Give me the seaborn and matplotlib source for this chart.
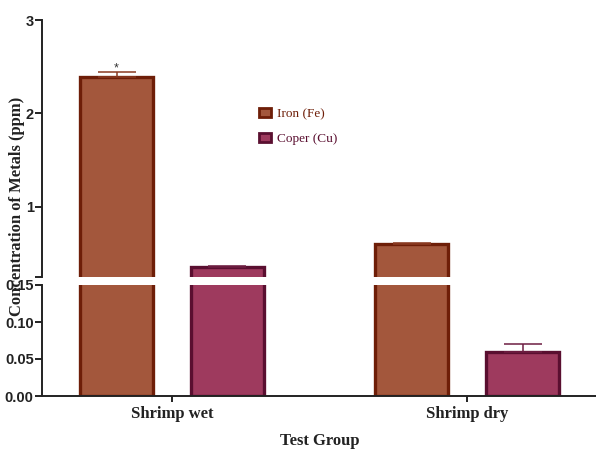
import numpy as np
import pandas as pd
import matplotlib
matplotlib.use("Agg")
import matplotlib.pyplot as plt
import seaborn as sns

# Metal concentrations (ppm) in shrimp samples
groups = ["Shrimp wet", "Shrimp dry"]
metals = ["Iron (Fe)", "Coper (Cu)"]
iron_mean = [2.385, 0.600]
iron_err = [0.055, 0.010]
copper_mean = [0.355, 0.0595]
copper_err = [0.015, 0.011]

fill_colors = {"Iron (Fe)": "#A3573C", "Coper (Cu)": "#9E3A5E"}
edge_colors = {"Iron (Fe)": "#6E1E08", "Coper (Cu)": "#5A0F30"}
err_colors = {"Iron (Fe)": "#8A3A22", "Coper (Cu)": "#6E1E42"}

df = pd.DataFrame({
    "group": groups * 2,
    "metal": [metals[0]] * 2 + [metals[1]] * 2,
    "value": iron_mean + copper_mean,
    "err": iron_err + copper_err,
})

sns.set_style("ticks")
plt.rcParams["font.family"] = ["Liberation Sans", "DejaVu Sans"]

fig = plt.figure(figsize=(5.96, 4.5), dpi=100)
left, right = 42 / 596, 1.0
ax_top = fig.add_axes([left, 1 - 277 / 450, right - left, (277 - 20) / 450])
ax_bot = fig.add_axes([left, 1 - 396 / 450, right - left, (396 - 285) / 450])

for ax in (ax_top, ax_bot):
    sns.barplot(data=df, x="group", y="value", hue="metal", order=groups,
                hue_order=metals, palette=fill_colors, width=0.752, gap=0.343,
                errorbar=None, ax=ax, legend=(ax is ax_top), saturation=1)
    for cont, metal in zip(ax.containers, metals):
        sub = df[df.metal == metal].set_index("group").loc[groups]
        for bar, (_, row) in zip(cont, sub.iterrows()):
            bar.set_edgecolor(edge_colors[metal])
            bar.set_linewidth(2.4)
            cx = bar.get_x() + bar.get_width() / 2
            ax.errorbar(cx, row["value"], yerr=[[0], [row["err"]]],
                        fmt="none", ecolor=err_colors[metal], elinewidth=1.1,
                        capsize=13.5, capthick=1.1, zorder=1)
    ax.set_xlim(-0.4407, 1.437)
    ax.set_xlabel("")
    ax.set_ylabel("")
    sns.despine(ax=ax, right=True, top=True)
    for s in ("left", "bottom"):
        ax.spines[s].set_linewidth(1.4)
        ax.spines[s].set_color("#222222")
    ax.tick_params(axis="y", width=1.4, length=5, color="#222222",
                   labelsize=10.5, pad=1)
    for t in ax.get_yticklabels():
        t.set_fontweight("bold")
        t.set_color("#222222")

# upper segment of the broken axis
ax_top.set_ylim(0.25, 3.0)
ax_top.set_yticks([0.25, 1, 2, 3])
ax_top.set_yticklabels(["", "1", "2", "3"], fontweight="bold")
ax_top.spines["bottom"].set_visible(False)
ax_top.tick_params(axis="x", bottom=False, labelbottom=False)

# lower segment of the broken axis
ax_bot.set_ylim(0, 0.15)
ax_bot.set_yticks([0, 0.05, 0.10, 0.15])
ax_bot.set_yticklabels(["0.00", "0.05", "0.10", "0.15"], fontweight="bold")
ax_bot.tick_params(axis="x", width=1.4, length=4, color="#222222", pad=3)
for t in ax_bot.get_xticklabels():
    t.set_fontfamily(["Liberation Serif", "DejaVu Serif"])
    t.set_fontweight("bold")
    t.set_fontsize(12)
    t.set_color("#222222")

# significance mark above wet iron
wet_fe = ax_top.containers[0][0]
ax_top.text(wet_fe.get_x() + wet_fe.get_width() / 2,
            iron_mean[0] + iron_err[0] - 0.02, "*", ha="center", va="bottom",
            fontsize=9, color="#333333")

leg = ax_top.legend(loc="upper left", bbox_to_anchor=(0.37, 0.705), frameon=False,
                    prop={"family": "Liberation Serif", "size": 9.5},
                    handlelength=0.95, handleheight=0.75, handletextpad=0.45,
                    labelspacing=0.95)
for txt, handle, metal in zip(leg.get_texts(), leg.legend_handles, metals):
    txt.set_color(edge_colors[metal])
    handle.set_edgecolor(edge_colors[metal])
    handle.set_linewidth(2.0)

fig.text(17 / 596, 1 - 206 / 450, "Concentration of Metals (ppm)", rotation=90,
         ha="center", va="center", fontsize=12, fontweight="bold",
         family=["Liberation Serif", "DejaVu Serif"], color="#222222")
fig.text(320 / 596, 1 - 441 / 450, "Test Group", ha="center", va="center",
         fontsize=12, fontweight="bold",
         family=["Liberation Serif", "DejaVu Serif"], color="#222222")

fig.savefig("out.png", dpi=100)
